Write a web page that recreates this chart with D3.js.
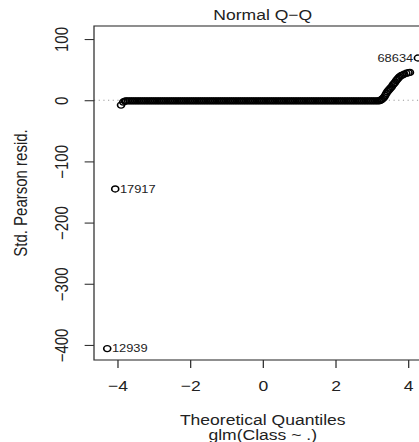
<!DOCTYPE html>
<html>
<head>
<meta charset="utf-8">
<script src="https://cdn.jsdelivr.net/npm/d3@7/dist/d3.min.js"></script>
<style>
body { margin: 0; background: #fff; }
text { font-family: "Liberation Sans", Arial, sans-serif; fill: #222; }
</style>
</head>
<body>
<div id="chart-area"></div>
<script>
// theoretical quantiles and std. pearson residuals
var quantiles = [-4.28, -4.06, -3.90, -3.84, -3.79,
	-3.76, -3.71, -3.66, -3.61, -3.56, -3.51, -3.46, -3.41, -3.36, -3.31,
	-3.26, -3.21, -3.16, -3.11, -3.06, -3.01, -2.96, -2.91, -2.86, -2.81,
	-2.76, -2.71, -2.66, -2.61, -2.56, -2.51, -2.46, -2.41, -2.36, -2.31,
	-2.26, -2.21, -2.16, -2.11, -2.06, -2.01, -1.96, -1.91, -1.86, -1.81,
	-1.76, -1.71, -1.66, -1.61, -1.56, -1.51, -1.46, -1.41, -1.36, -1.31,
	-1.26, -1.21, -1.16, -1.11, -1.06, -1.01, -0.96, -0.91, -0.86, -0.81,
	-0.76, -0.71, -0.66, -0.61, -0.56, -0.51, -0.46, -0.41, -0.36, -0.31,
	-0.26, -0.21, -0.16, -0.11, -0.06, -0.01, 0.04, 0.09, 0.14, 0.19,
	0.24, 0.29, 0.34, 0.39, 0.44, 0.49, 0.54, 0.59, 0.64, 0.69,
	0.74, 0.79, 0.84, 0.89, 0.94, 0.99, 1.04, 1.09, 1.14, 1.19,
	1.24, 1.29, 1.34, 1.39, 1.44, 1.49, 1.54, 1.59, 1.64, 1.69,
	1.74, 1.79, 1.84, 1.89, 1.94, 1.99, 2.04, 2.09, 2.14, 2.19,
	2.24, 2.29, 2.34, 2.39, 2.44, 2.49, 2.54, 2.59, 2.64, 2.69,
	2.74, 2.79, 2.84, 2.89, 2.94, 2.99, 3.04, 3.09, 3.14, 3.19,
	3.22, 3.25, 3.28, 3.31, 3.34, 3.37, 3.40, 3.43, 3.46, 3.49,
	3.52, 3.55, 3.58, 3.61, 3.64, 3.67, 3.70, 3.73, 3.76, 3.80,
	3.84, 3.89, 3.95, 4.01, 4.05, 4.27];
var residuals = [-406, -145, -8, -3, -1.5,
	-1, -1, -1, -1, -1, -1, -1, -1, -1, -1,
	-1, -1, -1, -1, -1, -1, -1, -1, -1, -1,
	-1, -1, -1, -1, -1, -1, -1, -1, -1, -1,
	-1, -1, -1, -1, -1, -1, -1, -1, -1, -1,
	-1, -1, -1, -1, -1, -1, -1, -1, -1, -1,
	-1, -1, -1, -1, -1, -1, -1, -1, -1, -1,
	-1, -1, -1, -1, -1, -1, -1, -1, -1, -1,
	-1, -1, -1, -1, -1, -1, -1, -1, -1, -1,
	-1, -1, -1, -1, -1, -1, -1, -1, -1, -1,
	-1, -1, -1, -1, -1, -1, -1, -1, -1, -1,
	-1, -1, -1, -1, -1, -1, -1, -1, -1, -1,
	-1, -1, -1, -1, -1, -1, -1, -1, -1, -1,
	-1, -1, -1, -1, -1, -1, -1, -1, -1, -1,
	-1, -1, -1, -1, -1, -1, -1, -1, -1, -1,
	-0.5, 0.3, 1.5, 3, 5, 8, 11, 14, 16, 18,
	20, 22, 25, 27, 29, 32, 34, 36, 38, 40,
	41, 42.5, 44, 45, 45.5, 69];

// labelled observations
var idLabels = ["12939", "17917", "68634"];
var idQuantiles = [-4.28, -4.06, 4.27];
var idResiduals = [-406, -145, 69];
var idSides = ["right", "right", "left"];

var xTicks = [-4, -2, 0, 2, 4];
var yTicks = [100, 0, -100, -200, -300, -400];

var points = quantiles.map((q, i) => ({ q: q, r: residuals[i] }));

var width = 419;
var height = 442;
var sx = 1.17; // the picture is stretched horizontally

var svg = d3.select("#chart-area").append("svg")
	.attr("width", width)
	.attr("height", height);

var g = svg.append("g")
	.attr("transform", "scale(" + sx + ",1)");

// plot box in unscaled coordinates
var boxLeft = 94 / sx, boxRight = 431.5 / sx, boxTop = 26, boxBottom = 360;

var x = d3.scaleLinear()
	.domain([-4.644, 4.644])
	.range([boxLeft, boxRight]);

var y = d3.scaleLinear()
	.domain([-424.6, 121.3])
	.range([boxBottom, boxTop]);

// reference line at 0
g.append("line")
	.attr("x1", boxLeft).attr("x2", boxRight)
	.attr("y1", y(0)).attr("y2", y(0))
	.attr("stroke", "#999")
	.attr("stroke-width", 1)
	.attr("stroke-dasharray", "1,3");

// points
g.selectAll("circle.pt")
	.data(points)
	.enter().append("circle")
	.attr("class", "pt")
	.attr("cx", (d) => x(d.q))
	.attr("cy", (d) => y(d.r))
	.attr("r", 3)
	.attr("fill", "none")
	.attr("stroke", "#000")
	.attr("stroke-width", 1.4);

// id labels
idLabels.forEach((lab, i) => {
	var onRight = idSides[i] == "right";
	g.append("text")
		.attr("x", x(idQuantiles[i]) + (onRight ? 4 : -4))
		.attr("y", y(idResiduals[i]))
		.attr("dy", "0.35em")
		.attr("text-anchor", onRight ? "start" : "end")
		.style("font-size", "11px")
		.text(lab);
});

// box
g.append("rect")
	.attr("x", boxLeft).attr("y", boxTop)
	.attr("width", boxRight - boxLeft).attr("height", boxBottom - boxTop)
	.attr("fill", "none")
	.attr("stroke", "#333")
	.attr("stroke-width", 1.1);

// axes
var xAxisGroup = g.append("g")
	.attr("transform", "translate(0, " + boxBottom + ")")
	.call(d3.axisBottom(x).tickValues(xTicks).tickSize(8));

var yAxisGroup = g.append("g")
	.attr("transform", "translate(" + boxLeft + ", 0)")
	.call(d3.axisLeft(y).tickValues(yTicks).tickSize(8));

[xAxisGroup, yAxisGroup].forEach((ax) => {
	ax.select(".domain").remove();
	ax.selectAll("line").attr("stroke", "#333").attr("stroke-width", 1.1);
	ax.selectAll("text")
		.style("font-size", "15px")
		.style("font-family", "'Liberation Sans', Arial, sans-serif")
		.attr("fill", "#222");
});

xAxisGroup.selectAll("text").attr("y", 20);

yAxisGroup.selectAll("text")
	.attr("x", null)
	.attr("dy", null)
	.attr("text-anchor", "middle")
	.attr("transform", "translate(" + (-26 / sx) + ",0) rotate(-90)")
	.attr("y", 0);

// title
g.append("text")
	.attr("x", (boxLeft + boxRight) / 2)
	.attr("y", 20)
	.attr("text-anchor", "middle")
	.style("font-size", "15px")
	.text("Normal Q\u2212Q");

// x labels
g.append("text")
	.attr("x", (boxLeft + boxRight) / 2)
	.attr("y", 425)
	.attr("text-anchor", "middle")
	.style("font-size", "15px")
	.text("Theoretical Quantiles");

g.append("text")
	.attr("x", (boxLeft + boxRight) / 2)
	.attr("y", 440)
	.attr("text-anchor", "middle")
	.style("font-size", "15px")
	.text("glm(Class ~ .)");

// y label
g.append("text")
	.attr("transform", "rotate(-90)")
	.attr("x", -(boxTop + boxBottom) / 2)
	.attr("y", 27 / sx)
	.attr("text-anchor", "middle")
	.style("font-size", "15px")
	.text("Std. Pearson resid.");
</script>
</body>
</html>
